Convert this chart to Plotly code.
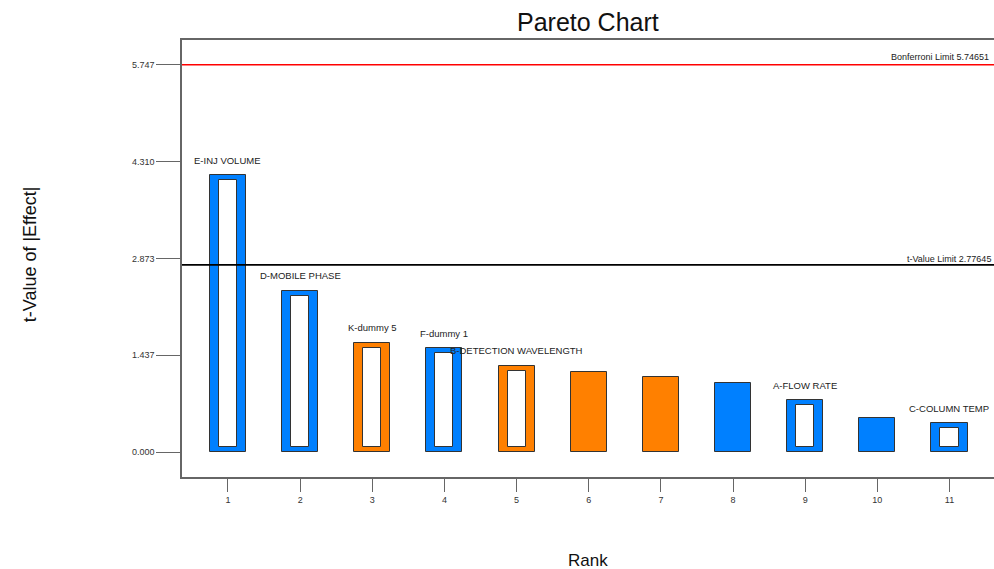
import plotly.graph_objects as go

# Pareto chart of effects: ranked t-values of |effect|
ranks = [1, 2, 3, 4, 5, 6, 7, 8, 9, 10, 11]
t_values = [4.11, 2.39, 1.62, 1.54, 1.28, 1.19, 1.11, 1.02, 0.77, 0.50, 0.43]
term_labels = ["E-INJ VOLUME", "D-MOBILE PHASE", "K-dummy 5", "F-dummy 1",
               "B-DETECTION WAVELENGTH", "", "", "", "A-FLOW RATE", "", "C-COLUMN TEMP"]
effect_sign = ["pos", "pos", "neg", "pos", "neg", "neg", "neg", "pos", "pos", "pos", "pos"]
in_model = [True, True, True, True, True, False, False, False, True, False, True]

bonferroni_limit = 5.74651
t_value_limit = 2.77645
y_tick_vals = [0.000, 1.437, 2.873, 4.310, 5.747]
y_tick_text = ["0.000", "1.437", "2.873", "4.310", "5.747"]

BLUE = "#0080FF"
ORANGE = "#FF8000"
EDGE = "#333333"
AXIS = "#666666"
FONT = "Arial, Liberation Sans, sans-serif"

colors = [BLUE if s == "pos" else ORANGE for s in effect_sign]

# white core inset of the outlined (model) bars, in t-value units
inset = 0.074
core_base = [inset if m else None for m in in_model]
core_height = [(v - 2 * inset) if m else None for v, m in zip(t_values, in_model)]

fig = go.Figure()
fig.add_trace(go.Bar(
    x=ranks, y=t_values, width=0.5,
    marker=dict(color=colors, line=dict(color=EDGE, width=1)),
    hoverinfo="skip", showlegend=False,
))
fig.add_trace(go.Bar(
    x=ranks, y=core_height, base=core_base, width=0.25,
    marker=dict(color="white", line=dict(color=EDGE, width=1)),
    hoverinfo="skip", showlegend=False,
))

# limit lines
fig.add_shape(type="line", xref="paper", x0=0, x1=1, yref="y",
              y0=bonferroni_limit, y1=bonferroni_limit,
              line=dict(color="#FF0000", width=1.5), layer="above")
fig.add_shape(type="line", xref="paper", x0=0, x1=1, yref="y",
              y0=t_value_limit, y1=t_value_limit,
              line=dict(color="#000000", width=1.8), layer="above")

annotations = [
    dict(text=f"Bonferroni Limit {bonferroni_limit:.5f}", xref="paper", x=0.8707,
         xanchor="left", yref="y", y=bonferroni_limit, yanchor="middle", yshift=8,
         showarrow=False, font=dict(size=9, color="#222222", family=FONT)),
    dict(text=f"t-Value Limit {t_value_limit:.5f}", xref="paper", x=0.8905,
         xanchor="left", yref="y", y=t_value_limit, yanchor="middle", yshift=6,
         showarrow=False, font=dict(size=9, color="#222222", family=FONT)),
]
for r, v, lab in zip(ranks, t_values, term_labels):
    if lab:
        annotations.append(dict(
            text=lab, x=r, y=v, xref="x", yref="y", xanchor="center",
            yanchor="middle", yshift=15, showarrow=False,
            font=dict(size=9.5, color="#222222", family=FONT)))

# titles
annotations += [
    dict(text="Pareto Chart", xref="paper", x=0.5, yref="paper", y=1.041,
         xanchor="center", yanchor="middle", showarrow=False,
         font=dict(size=25, color="#111111", family=FONT)),
    dict(text="Rank", xref="paper", x=0.5, yref="paper", y=-0.19,
         xanchor="center", yanchor="middle", showarrow=False,
         font=dict(size=17, color="#111111", family=FONT)),
    dict(text="t-Value of |Effect|", xref="paper", x=-0.187, yref="paper", y=0.51,
         xanchor="center", yanchor="middle", textangle=-90, showarrow=False,
         font=dict(size=18, color="#111111", family=FONT)),
]

fig.update_layout(
    width=994, height=569,
    margin=dict(l=182, r=0, t=40, b=92, pad=0),
    paper_bgcolor="white", plot_bgcolor="white",
    barmode="overlay", bargap=0,
    annotations=annotations,
    font=dict(family=FONT, size=9, color="#333333"),
    xaxis=dict(
        range=[0.3625, 11.617], tickmode="array", tickvals=ranks,
        ticktext=[str(r) for r in ranks],
        ticks="outside", ticklen=13, tickwidth=1, tickcolor=AXIS,
        showline=True, linecolor=AXIS, linewidth=1.5, mirror=True,
        showgrid=False, zeroline=False,
        tickfont=dict(size=9, color="#333333", family=FONT),
    ),
    yaxis=dict(
        range=[-0.371, 6.113], tickmode="array", tickvals=y_tick_vals,
        ticktext=y_tick_text,
        ticks="outside", ticklen=24, tickwidth=1, tickcolor=AXIS,
        showline=True, linecolor=AXIS, linewidth=1.5, mirror=False,
        showgrid=False, zeroline=False,
        tickfont=dict(size=9, color="#333333", family=FONT),
    ),
)

fig.write_html("out.html")
